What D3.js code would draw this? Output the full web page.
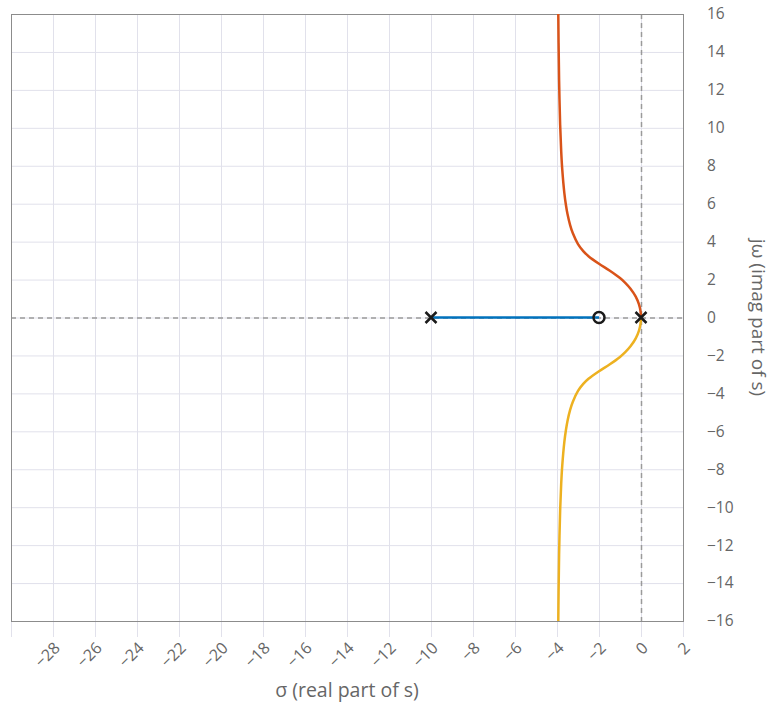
<!DOCTYPE html>
<html>
<head>
<meta charset="utf-8">
<script src="https://cdn.jsdelivr.net/npm/d3@7"></script>
<style>
  body { margin: 0; background: #fff; }
  text { font-family: "Open Sans", sans-serif; fill: #666; }
</style>
</head>
<body>
<div id="locus"></div>
<script>
const colorpel = { blue: '#0072bd', red: '#d95319', yellow: '#edb120',
                   grid: '#e1e1eb', frame: '#8c8c8c', zero: '#9a9a9a', mark: '#1a1a1a' }

let width = 774, height = 709;
const margin = { left: 11, right: 91, top: 14, bottom: 88 };

// axis ticks
const xTicks = [-30, -28, -26, -24, -22, -20, -18, -16, -14, -12, -10, -8, -6, -4, -2, 0, 2];
const xTickLabels = [-28, -26, -24, -22, -20, -18, -16, -14, -12, -10, -8, -6, -4, -2, 0, 2];
const yTicks = [16, 14, 12, 10, 8, 6, 4, 2, 0, -2, -4, -6, -8, -10, -12, -14, -16];

// poles and zeros
const poles = [[0, 0], [-10, 0]];
const zeros = [[-2, 0]];

// real-axis branch (blue)
const realSigma = [-10, -2];
const realOmega = [0, 0];

// complex branches
const branchSigma = [0, -0.025, -0.1, -0.25, -0.5, -0.75, -1, -1.5, -2, -2.5, -2.75, -3, -3.25,
                     -3.375, -3.5, -3.575, -3.65, -3.75, -3.8, -3.85, -3.9, -3.925, -3.94];
const upperOmega = [0, 0.35, 0.7, 1.1, 1.52, 1.83, 2.08, 2.48, 2.83, 3.23, 3.5, 3.87, 4.45,
                    4.87, 5.45, 5.93, 6.56, 7.81, 8.76, 10.16, 12.5, 14.48, 16.21];
const lowerOmega = [0, -0.35, -0.7, -1.1, -1.52, -1.83, -2.08, -2.48, -2.83, -3.23, -3.5, -3.87, -4.45,
                    -4.87, -5.45, -5.93, -6.56, -7.81, -8.76, -10.16, -12.5, -14.48, -16.21];

const x = d3.scaleLinear().domain([-30, 2]).range([margin.left, width - margin.right]);
const y = d3.scaleLinear().domain([-16, 16]).range([height - margin.bottom, margin.top]);
const fmt = d3.format("d");

const chart = () => {
    let svg = d3.select("#locus").append("svg")
        .attr("width", width).attr("height", height);

    svg.append("clipPath").attr("id", "plot")
        .append("rect")
        .attr("x", x(-30)).attr("y", y(16))
        .attr("width", x(2) - x(-30)).attr("height", y(-16) - y(16));

    // grid (vertical lines run a bit past the bottom as ticks)
    let g_grid = svg.append("g").attr("class", "grid");
    g_grid.selectAll("line.v").data(xTicks).enter().append("line")
        .attr("class", "v")
        .attr("x1", d => x(d) + 0.5).attr("x2", d => x(d) + 0.5)
        .attr("y1", y(16)).attr("y2", y(-16) + 16)
        .attr("stroke", colorpel.grid);
    g_grid.selectAll("line.h").data(yTicks).enter().append("line")
        .attr("class", "h")
        .attr("y1", d => y(d) + 0.5).attr("y2", d => y(d) + 0.5)
        .attr("x1", x(-30)).attr("x2", x(2))
        .attr("stroke", colorpel.grid);

    // zero lines
    svg.append("line")
        .attr("x1", x(0) + 0.5).attr("x2", x(0) + 0.5)
        .attr("y1", y(16)).attr("y2", y(-16))
        .attr("stroke", colorpel.zero).attr("stroke-width", 1.5)
        .attr("stroke-dasharray", "5,4");
    svg.append("line")
        .attr("x1", x(-30)).attr("x2", x(2))
        .attr("y1", y(0) + 0.5).attr("y2", y(0) + 0.5)
        .attr("stroke", colorpel.zero).attr("stroke-width", 1.5)
        .attr("stroke-dasharray", "5,4");

    // frame
    svg.append("rect")
        .attr("x", x(-30) + 0.5).attr("y", y(16) + 0.5)
        .attr("width", x(2) - x(-30)).attr("height", y(-16) - y(16))
        .attr("fill", "none").attr("stroke", colorpel.frame);

    // locus
    let g_line = svg.append("g").attr("clip-path", "url(#plot)");
    const line = d3.line().x(d => x(d[0])).y(d => y(d[1])).curve(d3.curveCatmullRom.alpha(0.5));

    g_line.append("path")
        .datum(realSigma.map((s, i) => [s, realOmega[i]]))
        .attr("d", line).attr("fill", "none")
        .attr("stroke", colorpel.blue).attr("stroke-width", 2.5);
    g_line.append("path")
        .datum(branchSigma.map((s, i) => [s, upperOmega[i]]))
        .attr("d", line).attr("fill", "none")
        .attr("stroke", colorpel.red).attr("stroke-width", 2.5);
    g_line.append("path")
        .datum(branchSigma.map((s, i) => [s, lowerOmega[i]]))
        .attr("d", line).attr("fill", "none")
        .attr("stroke", colorpel.yellow).attr("stroke-width", 2.5);

    // poles (x) and zeros (o)
    const r = 5.5;
    svg.selectAll("path.pole").data(poles).enter().append("path")
        .attr("class", "pole")
        .attr("d", d => `M${x(d[0]) - r},${y(d[1]) - r}L${x(d[0]) + r},${y(d[1]) + r}` +
                        `M${x(d[0]) - r},${y(d[1]) + r}L${x(d[0]) + r},${y(d[1]) - r}`)
        .attr("stroke", colorpel.mark).attr("stroke-width", 2.5);
    svg.selectAll("circle.zero").data(zeros).enter().append("circle")
        .attr("class", "zero")
        .attr("cx", d => x(d[0])).attr("cy", d => y(d[1])).attr("r", 5.5)
        .attr("fill", "none")
        .attr("stroke", colorpel.mark).attr("stroke-width", 2.5);

    // x tick labels, rotated
    svg.append("g").selectAll("text").data(xTickLabels).enter().append("text")
        .attr("transform", d => `translate(${x(d) + 4},${y(-16) + 24}) rotate(-45)`)
        .attr("text-anchor", "end")
        .attr("dy", "0.35em")
        .style("font-size", "16px")
        .text(fmt);

    // y tick labels on the right
    svg.append("g").selectAll("text").data(yTicks).enter().append("text")
        .attr("x", x(2) + 24)
        .attr("y", d => y(d))
        .attr("dy", "0.35em")
        .style("font-size", "15.5px")
        .text(fmt);

    // axis titles
    svg.append("text")
        .attr("x", (x(-30) + x(2)) / 2).attr("y", 697)
        .attr("text-anchor", "middle")
        .style("font-size", "19.5px")
        .text("σ (real part of s)");
    svg.append("text")
        .attr("transform", `translate(752,${y(0)}) rotate(90)`)
        .attr("text-anchor", "middle")
        .style("font-size", "19px")
        .text("jω (imag part of s)");

    return svg.node();
}

chart()
</script>
</body>
</html>
